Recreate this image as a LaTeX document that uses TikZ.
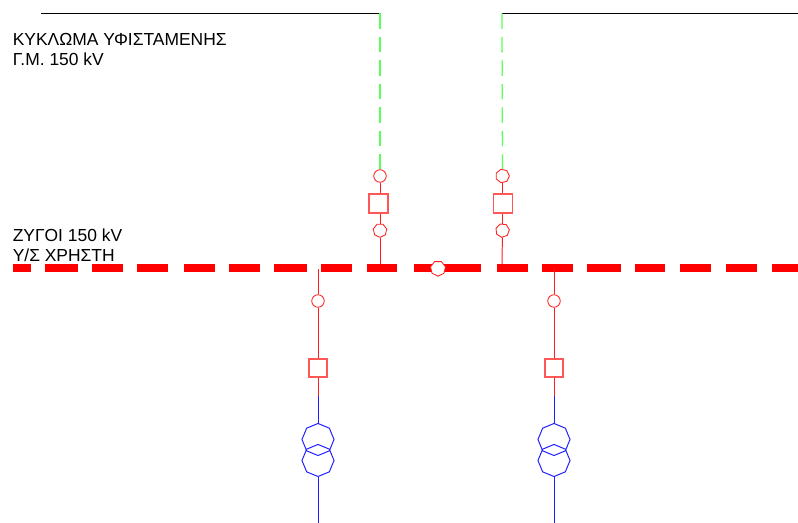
\documentclass[tikz,border=0pt]{standalone}
\usepackage{fontspec}
\setmainfont{Liberation Sans}
\usetikzlibrary{shapes.geometric}
\definecolor{lineRed}{RGB}{255,30,30}
\definecolor{lineBlue}{RGB}{30,30,255}
\definecolor{lineGreen}{RGB}{90,255,90}
\tikzset{
    label/.style={anchor=north west, align=left, inner sep=0pt, font=\fontsize{12.4}{14}\selectfont},
    wire/.style={draw=lineRed, line width=0.7pt},
    coil/.style={draw=lineBlue, line width=0.7pt},
    feeder/.style={draw=lineGreen, line width=0.9pt, dash pattern=on 11pt off 5.7pt},
    switch/.style={circle, draw=lineRed, fill=white, line width=0.6pt, inner sep=0pt, minimum size=8.9pt},
    flatswitch/.style={regular polygon, regular polygon sides=7, shape border rotate=#1, draw=lineRed, fill=white, line width=0.6pt, inner sep=0pt, minimum size=9.8pt},
    breaker/.style={rectangle, draw=lineRed!75, fill=white, line width=0.8pt, inner sep=0pt, minimum size=13.5pt},
    winding/.style={regular polygon, regular polygon sides=8, shape border rotate=22.5, draw=lineBlue, line width=0.7pt, inner sep=0pt, minimum size=22.8pt}
}
\begin{document}
\begin{tikzpicture}[x=0.025cm, y=-0.025cm]
    \useasboundingbox (0,0) rectangle (798,523);

    % busbar
    \foreach \a/\b in {12.5/31, 44.5/78, 92/123, 137/168, 184/215, 229/260, 274/307, 321/352,
        366.5/397, 413.5/481, 497/528, 542/573, 587/621, 634.5/665, 680/711, 726/757, 772/798}
        \fill[red] (\a,264) rectangle (\b,272);
    \node[flatswitch=180, minimum size=10.9pt] (busTie) at (438,268.5) {};

    \node[label] (lblCircuit) at (12.5,33) {ΚΥΚΛΩΜΑ ΥΦΙΣΤΑΜΕΝΗΣ\\Γ.Μ. 150 kV};
    \node[label] (lblBus) at (12.5,228.5) {ΖΥΓΟΙ 150 kV\\Υ/Σ ΧΡΗΣΤΗ};

    % incoming circuits
    \coordinate (lineA) at (41,13.5);
    \coordinate (cornerA) at (380,13.5);
    \coordinate (lineB) at (798,13.5);
    \coordinate (cornerB) at (502,13.5);
    \coordinate (busA) at (380,264);
    \coordinate (busB) at (502,264);

    \node[switch] (swA1) at (380,176) {};
    \node[breaker] (cbA) at (378.5,203.5) {};
    \node[flatswitch=180] (swA2) at (380,230.5) {};
    \node[flatswitch=270] (swB1) at (502.5,176) {};
    \node[breaker] (cbB) at (503,203.5) {};
    \node[flatswitch=225] (swB2) at (502.5,230.5) {};

    \draw (lineA) -- (cornerA);
    \draw (cornerB) -- (lineB);
    \draw[feeder] (cornerA) -- (swA1);
    \draw[feeder] (cornerB) -- (swB1);
    \draw[wire] (swA1) -- (swA1 |- cbA.north);
    \draw[wire] (swA1 |- cbA.south) -- (swA2);
    \draw[wire] (swA2) -- (busA);
    \draw[wire] (swB1) -- (swB1 |- cbB.north);
    \draw[wire] (swB1 |- cbB.south) -- (swB2);
    \draw[wire] (swB2) -- (busB);

    % transformer bays
    \coordinate (topC) at (318,269);
    \node[switch] (swC) at (318,301) {};
    \node[breaker, minimum size=12.8pt] (cbC) at (318,368) {};
    \coordinate (midC) at (318,396);
    \node[winding] (tuC) at (318,439.5) {};
    \node[winding] (tlC) at (318,460.5) {};
    \coordinate (endC) at (318,523);
    \draw[wire] (topC) -- (swC);
    \draw[wire] (swC) -- (cbC);
    \draw[wire] (cbC) -- (midC);
    \draw[coil] (midC) -- (tuC.north);
    \draw[coil] (tlC.south) -- (endC);

    \coordinate (topD) at (554,269);
    \node[switch] (swD) at (554,301) {};
    \node[breaker, minimum size=12.8pt] (cbD) at (554,368) {};
    \coordinate (midD) at (554,396);
    \node[winding] (tuD) at (554,439.5) {};
    \node[winding] (tlD) at (554,460.5) {};
    \coordinate (endD) at (554,523);
    \draw[wire] (topD) -- (swD);
    \draw[wire] (swD) -- (cbD);
    \draw[wire] (cbD) -- (midD);
    \draw[coil] (midD) -- (tuD.north);
    \draw[coil] (tlD.south) -- (endD);
\end{tikzpicture}
\end{document}
